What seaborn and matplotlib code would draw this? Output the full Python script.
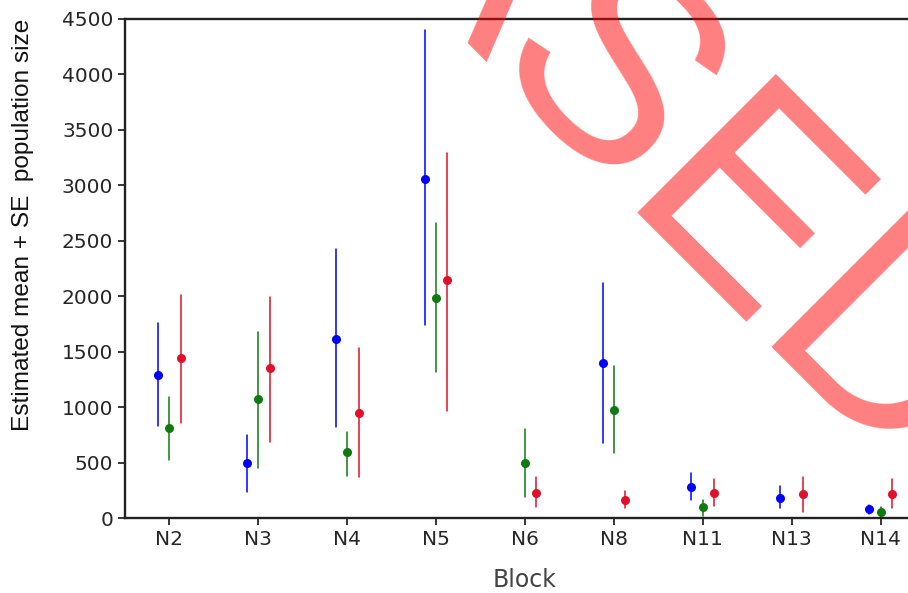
import numpy as np
import pandas as pd
import matplotlib
matplotlib.use("Agg")
import matplotlib.pyplot as plt
import seaborn as sns

blocks = ["N2", "N3", "N4", "N5", "N6", "N8", "N11", "N13", "N14"]
series_names = ["Series 1", "Series 2", "Series 3"]
series_colors = ["#0000ff", "#0f7a0f", "#e0102a"]

blue_mean = [1290, 493, 1614, 3055, np.nan, 1398, 283, 178, 82]
blue_low = [832, 237, 818, 1739, np.nan, 675, 164, 86, 34]
blue_high = [1756, 748, 2430, 4399, np.nan, 2121, 403, 290, 120]

green_mean = [809, 1070, 592, 1985, 495, 972, 103, np.nan, 51]
green_low = [523, 448, 379, 1313, 188, 587, 18, np.nan, 9]
green_high = [1094, 1680, 778, 2660, 802, 1371, 164, np.nan, 103]

red_mean = [1446, 1350, 944, 2145, 225, 164, 225, 215, 215]
red_low = [854, 688, 372, 965, 103, 86, 109, 51, 93]
red_high = [2011, 1996, 1530, 3290, 369, 239, 348, 369, 348]

yticks = [0, 500, 1000, 1500, 2000, 2500, 3000, 3500, 4000, 4500]

rows = []
for name, m, lo, hi in [
    (series_names[0], blue_mean, blue_low, blue_high),
    (series_names[1], green_mean, green_low, green_high),
    (series_names[2], red_mean, red_low, red_high),
]:
    for b, mv, lv, hv in zip(blocks, m, lo, hi):
        if np.isnan(mv):
            continue
        for v in (lv, mv, hv):
            rows.append({"Block": b, "Series": name, "value": v})
df = pd.DataFrame(rows)

sns.set_style("ticks")
plt.rcParams["font.family"] = ["DejaVu Sans"]

fig = plt.figure(figsize=(9.08, 5.93), dpi=100)
ax = fig.add_axes([125 / 908, 75 / 593, 800 / 908, 499 / 593])

sns.pointplot(
    data=df, x="Block", y="value", hue="Series",
    order=blocks, hue_order=series_names, palette=series_colors,
    estimator="median", errorbar=lambda v: (v.min(), v.max()),
    dodge=0.254, linestyle="none", markers="o",
    markersize=6.5, markeredgewidth=0,
    err_kws={"linewidth": 1.1}, legend=False, ax=ax,
)

ax.set_xlim(-0.5, 8.5)
ax.set_ylim(0, 4500)
ax.set_yticks(yticks)
ax.tick_params(axis="both", labelsize=14.5, colors="#262626", length=5, width=1.3, direction="out")
for s in ax.spines.values():
    s.set_visible(True)
    s.set_color("#222222")
    s.set_linewidth(1.7)

ax.set_xlabel("Block", fontsize=17, color="#444444", labelpad=14)
ax.set_ylabel("Estimated mean + SE  population size", fontsize=17.6,
              family="Liberation Sans", color="#111111")
ax.yaxis.set_label_coords(-0.114, 0.587)

fig.text(626 / 908, 1 - 202 / 593, "ASED", fontsize=205, family="Liberation Sans",
         color="red", alpha=0.5, rotation=-45, rotation_mode="anchor",
         ha="center", va="baseline", zorder=10)

fig.savefig("out.png", dpi=100)
